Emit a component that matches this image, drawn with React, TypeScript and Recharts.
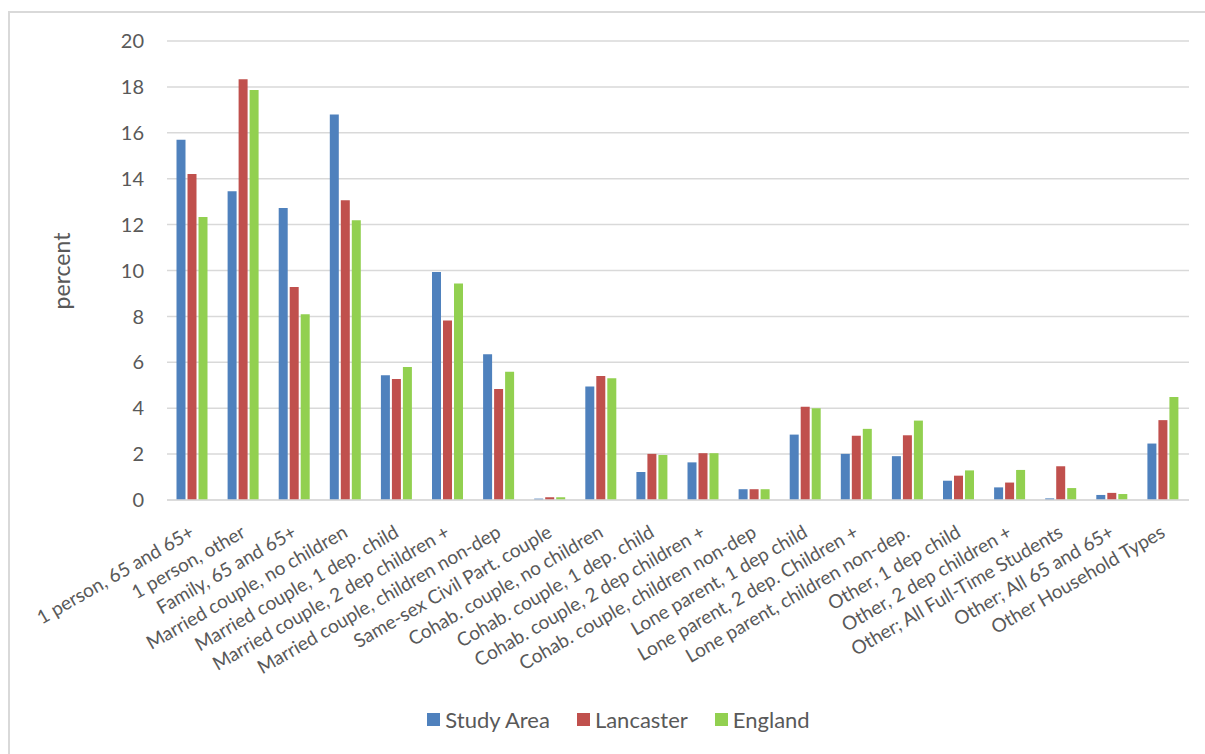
import { BarChart, Bar, XAxis, YAxis, CartesianGrid, Legend } from 'recharts'

const categories = [
  '1 person, 65 and 65+',
  '1 person, other',
  'Family, 65 and 65+',
  'Married couple, no children',
  'Married couple, 1 dep. child',
  'Married couple, 2 dep children +',
  'Married couple, children non-dep',
  'Same-sex Civil Part. couple',
  'Cohab. couple, no children',
  'Cohab. couple, 1 dep. child',
  'Cohab. couple, 2 dep children +',
  'Cohab. couple, children non-dep',
  'Lone parent, 1 dep child',
  'Lone parent, 2 dep. Children +',
  'Lone parent, children non-dep.',
  'Other, 1 dep child',
  'Other,  2 dep children +',
  'Other; All Full-Time Students',
  'Other; All 65 and 65+',
  'Other Household Types',
]

const seriesNames = ['Study Area', 'Lancaster', 'England']
const seriesColors = ['#4F81BD', '#C0504D', '#92D050']
const studyArea = [15.7, 13.45, 12.72, 16.8, 5.44, 9.93, 6.35, 0.06, 4.95, 1.22, 1.64, 0.47, 2.85, 2.01, 1.91, 0.84, 0.55, 0.07, 0.22, 2.46]
const lancaster = [14.2, 18.33, 9.28, 13.06, 5.27, 7.82, 4.84, 0.12, 5.4, 2.01, 2.04, 0.47, 4.06, 2.8, 2.82, 1.06, 0.76, 1.47, 0.31, 3.48]
const england = [12.33, 17.87, 8.09, 12.19, 5.8, 9.43, 5.59, 0.12, 5.31, 1.96, 2.04, 0.47, 4.0, 3.1, 3.46, 1.29, 1.31, 0.52, 0.26, 4.49]

const yTicks = [0, 2, 4, 6, 8, 10, 12, 14, 16, 18, 20]

const data = categories.map((c, i) => ({
  name: c,
  study: studyArea[i],
  lancaster: lancaster[i],
  england: england[i],
}))

const FONT = 'Lato, "Open Sans", sans-serif'
const TEXT = '#595959'

function CategoryTick({ x, y, payload }: any) {
  return (
    <g transform={`translate(${x + 3},${y + 36})`}>
      <text transform="rotate(-30)" textAnchor="end" fill={TEXT} fontSize={19} fontFamily={FONT}>
        {payload.value}
      </text>
    </g>
  )
}

function PercentLabel() {
  return (
    <text
      x={0}
      y={0}
      transform="translate(70,271) rotate(-90)"
      textAnchor="middle"
      fill={TEXT}
      fontSize={23}
      fontFamily={FONT}
    >
      percent
    </text>
  )
}

function LegendContent() {
  return (
    <div style={{ display: 'flex', justifyContent: 'center', alignItems: 'center', fontFamily: FONT, fontSize: 22, color: TEXT, paddingLeft: 48, marginTop: -2 }}>
      {seriesNames.map((n, i) => (
        <div key={n} style={{ display: 'flex', alignItems: 'center', marginRight: i < seriesNames.length - 1 ? 27 : 0 }}>
          <span style={{ display: 'inline-block', width: 13, height: 13, background: seriesColors[i], marginRight: 5 }} />
          <span>{n}</span>
        </div>
      ))}
    </div>
  )
}

export default function App() {
  return (
    <div style={{ position: 'absolute', left: 0, top: 0, width: 1205, height: 754, background: '#fff', overflow: 'hidden' }}>
      <div
        style={{
          position: 'absolute',
          left: 8,
          top: 11,
          width: 1300,
          height: 900,
          borderTop: '2px solid #d9d9d9',
          borderLeft: '2px solid #d9d9d9',
        }}
      />
      <div style={{ position: 'absolute', left: 0, top: 0 }}>
        <BarChart
          width={1205}
          height={754}
          data={data}
          margin={{ top: 41, right: 16, bottom: 16, left: 0 }}
          barCategoryGap="18.6%"
          barGap={2}
        >
          <CartesianGrid vertical={false} stroke="#d9d9d9" strokeWidth={1.5} />
          <XAxis
            dataKey="name"
            interval={0}
            height={208}
            tickLine={false}
            tickSize={0}
            tickMargin={0}
            axisLine={{ stroke: '#d9d9d9', strokeWidth: 1.5 }}
            tick={<CategoryTick />}
          />
          <YAxis
            width={167}
            domain={[0, 20]}
            ticks={yTicks}
            axisLine={false}
            tickLine={false}
            tickMargin={17}
            tick={{ fill: TEXT, fontSize: 20, fontFamily: FONT }}
            label={<PercentLabel />}
          />
          <Legend verticalAlign="bottom" height={30} content={<LegendContent />} />
          <Bar dataKey="study" name={seriesNames[0]} fill={seriesColors[0]} isAnimationActive={false} />
          <Bar dataKey="lancaster" name={seriesNames[1]} fill={seriesColors[1]} isAnimationActive={false} />
          <Bar dataKey="england" name={seriesNames[2]} fill={seriesColors[2]} isAnimationActive={false} />
        </BarChart>
      </div>
    </div>
  )
}
